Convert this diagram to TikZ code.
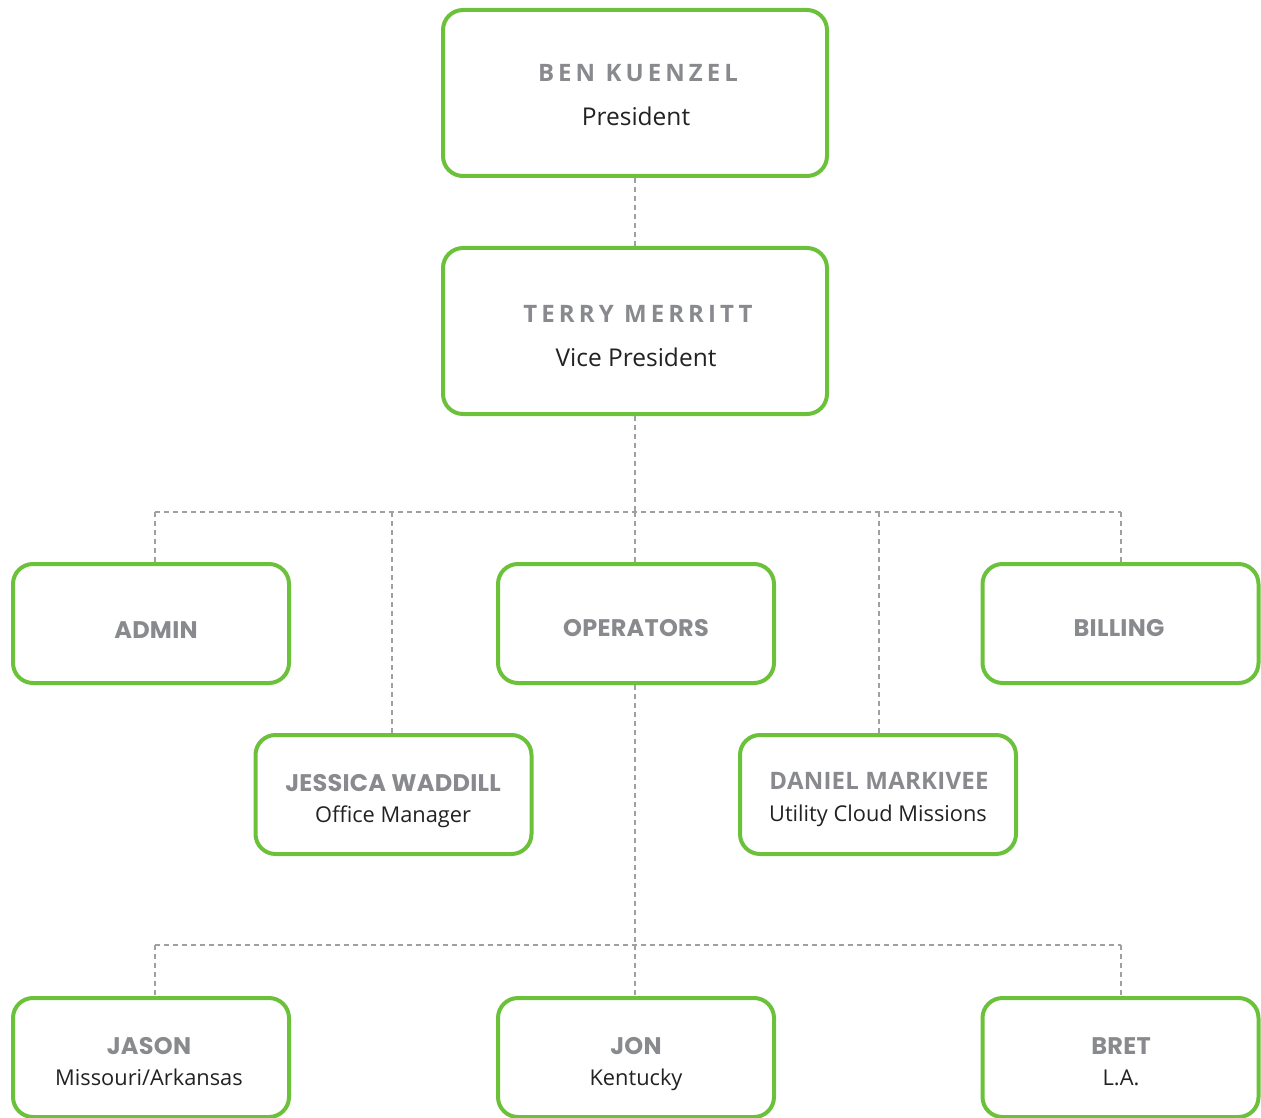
\documentclass[tikz,border=0pt]{standalone}
\usepackage{fontspec}
\setmainfont{Open Sans}
\newfontfamily\osb{Open Sans}[LetterSpace=17]
\newfontfamily\osbn{Open Sans}[LetterSpace=1]
\newfontfamily\pop{Poppins}[LetterSpace=1]
\definecolor{boxgreen}{HTML}{6CC13A}
\definecolor{namegray}{HTML}{898A8E}
\definecolor{subgray}{HTML}{222222}
\definecolor{linegray}{HTML}{A0A0A0}
\begin{document}
\begin{tikzpicture}[x=1pt,y=-1pt,
  orgbox/.style={draw=boxgreen,line width=4pt,rounded corners=20pt,fill=white,inner sep=0pt},
  bigbox/.style={orgbox,minimum width=384pt,minimum height=166pt},
  smallbox/.style={orgbox,minimum width=276pt,minimum height=119pt},
  nameA/.style={anchor=base,inner sep=0pt,text=namegray,font=\osb\bfseries\fontsize{24}{28}\selectfont},
  nameB/.style={anchor=base,inner sep=0pt,text=namegray,font=\pop\bfseries\fontsize{24}{28}\selectfont},
  nameC/.style={anchor=base,inner sep=0pt,text=namegray,font=\osbn\bfseries\fontsize{24}{28}\selectfont},
  sub/.style={anchor=base,inner sep=0pt,text=subgray,font=\fontsize{24.5}{28}\selectfont},
  subsm/.style={anchor=base,inner sep=0pt,text=subgray,font=\fontsize{21.8}{26}\selectfont},
  link/.style={draw=linegray,line width=1.2pt,dash pattern=on 5pt off 4pt}]
\useasboundingbox (0,0) rectangle (1261,1118);
% boxes
\node[bigbox] (ben) at (635,93) {};
\node[bigbox] (terry) at (635,331) {};
\node[smallbox] (admin) at (151,623.5) {};
\node[smallbox] (oper) at (636,623.5) {};
\node[smallbox] (bill) at (1120.5,623.5) {};
\node[smallbox] (jess) at (393.5,794.5) {};
\node[smallbox] (dan) at (878,794.5) {};
\node[smallbox] (jason) at (151,1057.5) {};
\node[smallbox] (jon) at (636,1057.5) {};
\node[smallbox] (bret) at (1120.5,1057.5) {};
% texts
\node[nameA] (benN) at (638,82) {BEN KUENZEL};
\node[sub] (benS) at (636,126) {President};
\node[nameA] (terN) at (638,322) {TERRY MERRITT};
\node[sub] (terS) at (636,366) {Vice President};
\node[nameB] (adN) at (156,638) {ADMIN};
\node[nameB] (opN) at (636,636) {OPERATORS};
\node[nameB] (biN) at (1119,636) {BILLING};
\node[nameB] (jeN) at (393,791) {JESSICA WADDILL};
\node[subsm] (jeS) at (393,822) {Office Manager};
\node[nameC] (daN) at (879,789) {DANIEL MARKIVEE};
\node[subsm] (daS) at (878,821) {Utility Cloud Missions};
\node[nameB] (jaN) at (149,1054) {JASON};
\node[subsm] (jaS) at (149,1085) {Missouri/Arkansas};
\node[nameB] (joN) at (636,1054) {JON};
\node[subsm] (joS) at (636,1085) {Kentucky};
\node[nameB] (brN) at (1121,1054) {BRET};
\node[subsm] (brS) at (1121,1085) {L.A.};
% connectors
\coordinate (h0) at (635,512);
\coordinate (hA) at (155,512);
\coordinate (hJ) at (392,512);
\coordinate (hD) at (879,512);
\coordinate (hB) at (1121,512);
\coordinate (l0) at (635,945);
\coordinate (lA) at (155,945);
\coordinate (lB) at (1121,945);
\draw[link] (ben.south) -- (terry.north);
\draw[link] (terry.south) -- (h0);
\draw[link] (hA) -- (hB);
\draw[link] (hA) -- (hA |- admin.north);
\draw[link] (hJ) -- (hJ |- jess.north);
\draw[link] (h0) -- (h0 |- oper.north);
\draw[link] (hD) -- (hD |- dan.north);
\draw[link] (hB) -- (hB |- bill.north);
\draw[link] (oper.south -| l0) -- (l0);
\draw[link] (lA) -- (lB);
\draw[link] (lA) -- (lA |- jason.north);
\draw[link] (l0) -- (l0 |- jon.north);
\draw[link] (lB) -- (lB |- bret.north);
\end{tikzpicture}
\end{document}
